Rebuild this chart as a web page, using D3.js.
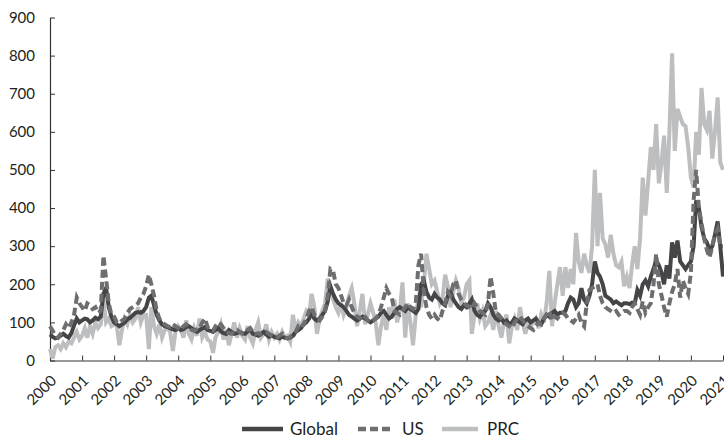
<!DOCTYPE html>
<html><head><meta charset="utf-8">
<script src="https://cdn.jsdelivr.net/npm/d3@7/dist/d3.min.js"></script>
<style>body{margin:0;background:#fff}svg{display:block}text{font-family:Lato,"Open Sans",sans-serif;fill:#231f20}</style>
</head><body>
<svg id="c" width="724" height="438"></svg>
<script>
const startYear = 2000;
const yearLabels = d3.range(2000, 2022).map(String);
const yTicks = [0,100,200,300,400,500,600,700,800,900];
const seriesNames = ["Global","US","PRC"];

// monthly values, Jan 2000 - Jan 2021
const globalValues = [
 68,62,58,60,65,70,64,60,72,92,110,100,
 105,110,108,100,105,112,108,115,175,190,140,115,
 100,95,90,95,100,108,112,118,125,127,125,130,
 140,165,170,145,120,105,95,90,88,85,82,80,
 85,80,82,88,90,85,80,75,80,84,88,80,
 78,75,80,85,76,72,70,80,75,70,72,75,
 72,70,76,82,70,68,65,70,75,68,62,66,
 62,60,58,62,60,58,60,65,75,80,85,95,
 100,110,125,110,105,110,120,130,155,195,175,160,
 150,145,140,130,120,115,110,105,110,115,110,105,
 100,105,110,115,125,130,120,110,115,125,135,140,
 135,130,140,135,130,125,135,200,210,180,165,160,
 175,165,160,150,145,170,180,160,150,140,135,145,
 140,150,160,130,120,115,125,130,150,140,120,110,
 105,110,100,105,95,100,110,105,100,95,105,110,
 100,105,110,100,95,110,120,115,125,130,120,125,
 125,130,150,165,160,140,150,190,160,150,170,200,
 260,230,220,200,170,165,160,150,155,150,145,150,
 150,148,152,150,185,170,200,210,195,220,240,263,
 250,230,200,250,215,310,270,315,260,250,240,250,
 260,300,420,400,350,320,310,290,300,330,365,300,
 220];
const usValues = [
 90,78,65,60,70,80,95,85,100,120,165,150,
 140,130,150,145,135,140,125,130,275,215,150,120,
 115,100,98,105,110,125,135,140,145,150,165,175,
 195,225,200,170,130,110,100,95,90,88,95,90,
 85,80,90,95,85,80,78,82,85,100,110,88,
 80,78,90,100,95,85,75,72,70,78,80,75,
 70,72,80,85,75,70,72,68,70,75,70,65,
 62,60,65,70,60,58,62,68,75,90,85,95,
 110,130,140,120,110,105,115,130,170,240,235,200,
 190,170,150,145,160,140,125,115,110,120,115,105,
 100,105,110,120,140,165,190,175,165,130,125,120,
 130,140,150,140,135,150,250,280,180,140,120,110,
 120,110,105,130,150,180,170,200,210,175,160,150,
 145,140,135,150,140,130,125,120,150,220,175,125,
 120,110,100,95,90,85,100,110,115,105,95,90,
 85,80,90,100,95,110,120,130,105,115,110,120,
 125,120,110,105,100,110,120,100,90,150,185,190,
 195,200,170,150,140,135,130,125,130,120,125,130,
 130,125,140,150,135,120,155,125,140,150,200,280,
 200,170,140,115,150,180,200,240,165,210,190,175,
 230,420,500,400,360,320,290,270,300,330,345,300,
 300];
const prcValues = [
 30,5,35,40,30,45,35,50,45,60,75,55,
 65,85,60,90,70,100,85,95,160,100,110,90,
 95,90,40,80,110,95,120,100,110,140,100,120,
 120,30,140,90,70,95,60,80,85,75,25,75,
 90,80,60,105,70,55,85,65,110,60,75,55,
 50,20,60,75,95,55,80,40,70,100,60,85,
 65,55,90,60,45,80,100,60,70,95,55,75,
 60,70,55,75,60,65,50,120,80,100,90,110,
 130,120,175,140,70,110,130,150,215,190,160,140,
 125,150,120,140,170,190,150,90,130,175,95,120,
 150,125,100,40,90,120,80,140,110,160,100,130,
 205,60,150,100,40,120,160,140,200,280,240,200,
 210,180,150,165,225,195,140,180,210,190,150,165,
 200,210,70,120,150,110,130,90,100,120,80,130,
 90,60,100,120,45,90,110,80,140,100,70,95,
 90,100,110,85,120,100,150,235,90,150,200,245,
 170,245,190,240,200,335,260,230,280,250,230,300,
 500,300,440,320,305,270,330,280,250,245,260,195,
 220,190,250,300,240,320,480,380,470,560,500,620,
 465,520,590,440,600,806,550,660,640,620,615,560,
 480,455,600,540,715,620,605,655,530,600,690,520,
 500];

const colors = {Global:"#454547", US:"#6d6e70", PRC:"#bdbec0"};
const dates = globalValues.map((_, i) => new Date(startYear, i, 1));

const svg = d3.select("#c");
const x = d3.scaleTime().domain([new Date(2000,0,1), new Date(2021,0,1)]).range([50, 723]);
const y = d3.scaleLinear().domain([0, 900]).range([360.5, 17.5]);

// axes
const xAxis = d3.axisBottom(x)
  .tickValues(yearLabels.map(s => new Date(+s, 0, 1)))
  .tickFormat(d3.timeFormat("%Y")).tickSize(-5).tickSizeOuter(0);
const gx = svg.append("g").attr("transform", "translate(0,360.5)").call(xAxis);
gx.select(".domain").attr("stroke", "#333").attr("stroke-width", 1.2);
gx.selectAll(".tick line").attr("stroke", "#333");
gx.selectAll(".tick text").attr("font-size", 15).attr("fill", "#231f20")
  .attr("text-anchor", "end").attr("dy", null).attr("y", null)
  .attr("transform", "translate(7,21) rotate(-45)");

const yAxis = d3.axisLeft(y).tickValues(yTicks).tickSize(-5).tickSizeOuter(0).tickPadding(15);
const gy = svg.append("g").attr("transform", "translate(50,0)").call(yAxis);
gy.select(".domain").attr("stroke", "#333").attr("stroke-width", 1.2);
gy.selectAll(".tick line").attr("stroke", "#333");
gy.selectAll(".tick text").attr("font-size", 15).attr("fill", "#231f20");

// lines
const line = d3.line().x((d, i) => x(dates[i])).y(d => y(d));
const draw = (vals, name, dash) => svg.append("path").datum(vals)
  .attr("d", line).attr("fill", "none").attr("stroke", colors[name])
  .attr("stroke-width", 4).attr("stroke-dasharray", dash || null);
draw(prcValues, "PRC");
draw(globalValues, "Global");
draw(usValues, "US", "8,4");

// legend
const leg = [{n:"Global", x1:242, x2:283, tx:290},{n:"US", x1:358, x2:394, tx:402, dash:"8,4"},{n:"PRC", x1:442, x2:478, tx:487}];
const ly = 429;
leg.forEach(l => {
  svg.append("line").attr("x1", l.x1).attr("x2", l.x2).attr("y1", ly).attr("y2", ly)
    .attr("stroke", colors[l.n]).attr("stroke-width", 4.5).attr("stroke-dasharray", l.dash || null);
  svg.append("text").attr("x", l.tx).attr("y", ly).attr("dy", "0.35em").attr("font-size", 17).text(l.n);
});
</script>
</body></html>
